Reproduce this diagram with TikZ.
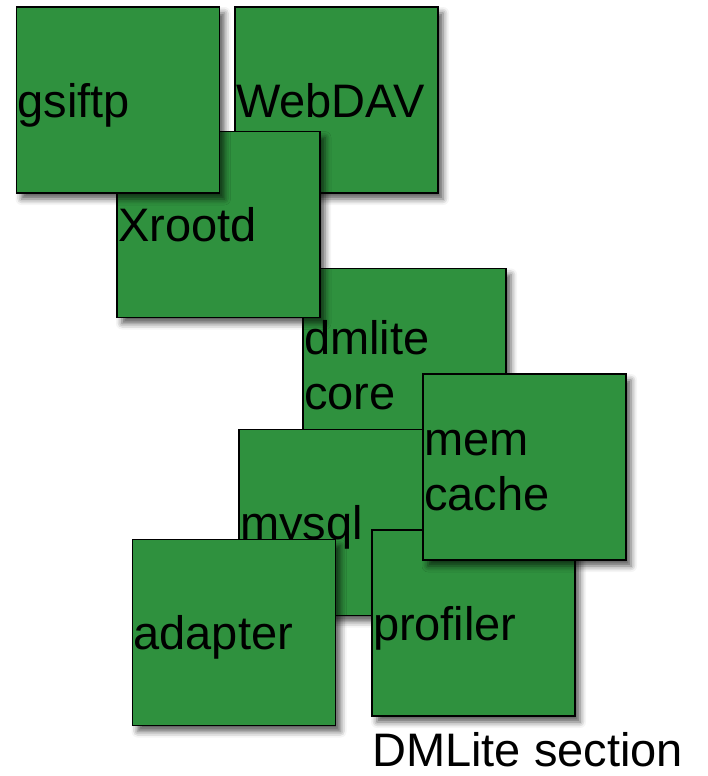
\documentclass[tikz,border=0pt]{standalone}
\usepackage{fontspec}
\setmainfont{Liberation Sans}
\usetikzlibrary{shadows.blur}
\definecolor{boxgreen}{RGB}{47,145,62}
\begin{document}
\begin{tikzpicture}[x=1pt,y=-1pt,
   module/.style={draw=black,line width=1.6pt,fill=boxgreen,
     minimum width=203pt,minimum height=186pt,text width=201pt,
     inner xsep=1pt,inner ysep=0pt,align=left,text depth=0pt,
     font=\fontsize{47}{55}\selectfont,
     blur shadow={shadow xshift=5pt,shadow yshift=-6pt,shadow blur radius=6pt,shadow opacity=65}},
   twoline/.style={text depth=49pt}]
   \useasboundingbox (0,0) rectangle (707,776);
   \node[module,twoline] (dmlite) at (404.5,361.5) {dmlite\\core};
   \node[module] (webdav) at (336.5,100) {WebDAV};
   \node[module] (xrootd) at (218.5,224.5) {Xrootd};
   \node[module] (gsiftp) at (118,100) {gsiftp};
   \node[module] (mysql) at (340.5,522.5) {mysql};
   \node[module] (profiler) at (473.5,623) {profiler};
   \node[module,twoline] (memcache) at (524.5,467) {mem\\cache};
   \node[module] (adapter) at (234,632.5) {adapter};
   \node[anchor=base west,inner sep=0pt,font=\fontsize{47}{55}\selectfont] (section) at (372,766) {DMLite section};
\end{tikzpicture}
\end{document}
